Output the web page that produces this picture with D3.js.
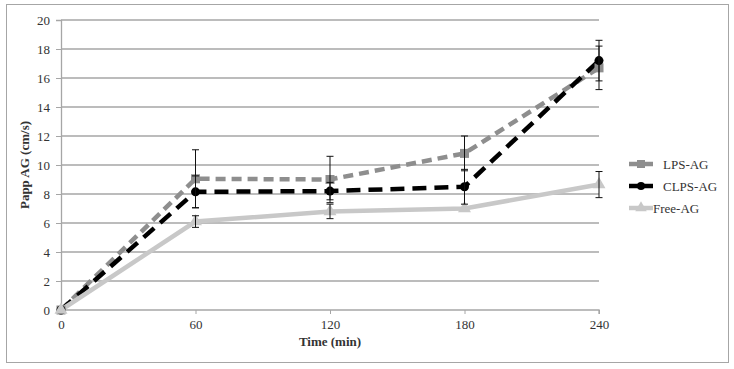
<!DOCTYPE html>
<html>
<head>
<meta charset="utf-8">
<script src="https://cdn.jsdelivr.net/npm/d3@7"></script>
<style>
  body { margin: 0; background: #fff; }
  text { font-family: "Liberation Serif", "DejaVu Serif", serif; fill: #333; }
</style>
</head>
<body>
<div id="chart"></div>
<script>
// data
var times = [0, 60, 120, 180, 240];
var lpsAG = [0, 9.05, 9.0, 10.8, 16.7];
var lpsErr = [0, 2.0, 1.6, 1.2, 1.5];
var clpsAG = [0, 8.15, 8.2, 8.5, 17.2];
var clpsErr = [0, 1.1, 0.6, 1.2, 1.4];
var freeAG = [0, 6.1, 6.8, 7.0, 8.65];
var freeErr = [0, 0.4, 0.5, 0, 0.9];
var yTicks = [0, 2, 4, 6, 8, 10, 12, 14, 16, 18, 20];

var seriesList = [
  { name: "LPS-AG", values: lpsAG, err: lpsErr, color: "#8e8e8e", dash: "10,6", marker: "square" },
  { name: "CLPS-AG", values: clpsAG, err: clpsErr, color: "#000000", dash: "14,8", marker: "circle" },
  { name: "Free-AG", values: freeAG, err: freeErr, color: "#c8c8c8", dash: null, marker: "triangle" }
];

var svgWidth = 734;
var svgHeight = 369;
var margin = { top: 20, right: 135, bottom: 59, left: 61 };
var width = svgWidth - margin.left - margin.right;
var height = svgHeight - margin.top - margin.bottom;

var svg = d3.select("#chart")
  .append("svg")
  .attr("width", svgWidth)
  .attr("height", svgHeight);

// outer frame
svg.append("rect")
  .attr("x", 6.5).attr("y", 4.5)
  .attr("width", 722).attr("height", 358)
  .attr("fill", "none")
  .attr("stroke", "#a6a6a6")
  .attr("stroke-width", 1);

var chartGroup = svg.append("g")
  .attr("transform", `translate(${margin.left}, ${margin.top})`);

var x = d3.scaleLinear().domain([0, 240]).range([0, width]);
var y = d3.scaleLinear().domain([0, 20]).range([height, 0]);

// gridlines
chartGroup.selectAll(".grid")
  .data(yTicks.slice(1))
  .enter()
  .append("line")
  .attr("x1", 0).attr("x2", width)
  .attr("y1", d => y(d)).attr("y2", d => y(d))
  .attr("stroke", "#a6a6a6")
  .attr("stroke-width", 1.3);

// axes
var leftAxis = d3.axisLeft(y).tickValues(yTicks).tickSize(5).tickPadding(6);
var bottomAxis = d3.axisBottom(x).tickValues(times).tickSize(4).tickPadding(6);

var gy = chartGroup.append("g").call(leftAxis);
var gx = chartGroup.append("g").attr("transform", `translate(0, ${height})`).call(bottomAxis);
[gy, gx].forEach(function(g) {
  g.select(".domain").attr("stroke", "#a6a6a6").attr("stroke-width", 1.3);
  g.selectAll(".tick line").attr("stroke", "#a6a6a6");
  g.selectAll(".tick text")
    .style("font-family", "'Liberation Serif', serif")
    .style("font-size", "13px")
    .attr("fill", "#333");
});
gx.select(".domain").attr("d", `M0,${4}V0H${width}V${4}`);

// lines
var line = d3.line()
  .x((d, i) => x(times[i]))
  .y(d => y(d));

seriesList.forEach(function(s) {
  chartGroup.append("path")
    .datum(s.values)
    .attr("fill", "none")
    .attr("stroke", s.color)
    .attr("stroke-width", 4.5)
    .attr("stroke-dasharray", s.dash)
    .attr("d", line);
});

// markers
function drawMarker(g, type, cx, cy, color, size) {
  if (type === "square") {
    g.append("rect").attr("x", cx - size / 2).attr("y", cy - size / 2)
      .attr("width", size).attr("height", size).attr("fill", color);
  } else if (type === "circle") {
    g.append("circle").attr("cx", cx).attr("cy", cy).attr("r", size / 2).attr("fill", color);
  } else {
    g.append("path")
      .attr("d", d3.symbol().type(d3.symbolTriangle).size(size * size * 0.9)())
      .attr("transform", `translate(${cx},${cy})`)
      .attr("fill", color);
  }
}

seriesList.forEach(function(s) {
  s.values.forEach(function(v, i) {
    drawMarker(chartGroup, s.marker, x(times[i]), y(v), s.color, 9);
  });
});

// error bars
seriesList.forEach(function(s) {
  s.values.forEach(function(v, i) {
    var e = s.err[i];
    if (!e) return;
    var cx = x(times[i]);
    var eb = chartGroup.append("g").attr("stroke", "#111").attr("stroke-width", 1);
    eb.append("line").attr("x1", cx).attr("x2", cx).attr("y1", y(v + e)).attr("y2", y(v - e));
    eb.append("line").attr("x1", cx - 3.5).attr("x2", cx + 3.5).attr("y1", y(v + e)).attr("y2", y(v + e));
    eb.append("line").attr("x1", cx - 3.5).attr("x2", cx + 3.5).attr("y1", y(v - e)).attr("y2", y(v - e));
  });
});

// axis titles
chartGroup.append("text")
  .attr("transform", "rotate(-90)")
  .attr("x", -(height / 2))
  .attr("y", -32)
  .attr("text-anchor", "middle")
  .style("font-size", "13px")
  .style("font-weight", "bold")
  .text("Papp AG (cm/s)");

chartGroup.append("text")
  .attr("x", width / 2)
  .attr("y", height + 36)
  .attr("text-anchor", "middle")
  .style("font-size", "13px")
  .style("font-weight", "bold")
  .text("Time (min)");

// legend
var legend = svg.append("g").attr("transform", "translate(629, 164)");
seriesList.forEach(function(s, i) {
  var row = legend.append("g").attr("transform", `translate(0, ${i * 22})`);
  row.append("line")
    .attr("x1", 0).attr("x2", 24).attr("y1", 0).attr("y2", 0)
    .attr("stroke", s.color).attr("stroke-width", 4.5);
  drawMarker(row, s.marker, 12, 0, s.color, 8);
  row.append("text")
    .attr("x", i === 2 ? 24 : 34)
    .attr("y", 4.5)
    .style("font-size", "13px")
    .text(s.name);
});
</script>
</body>
</html>
